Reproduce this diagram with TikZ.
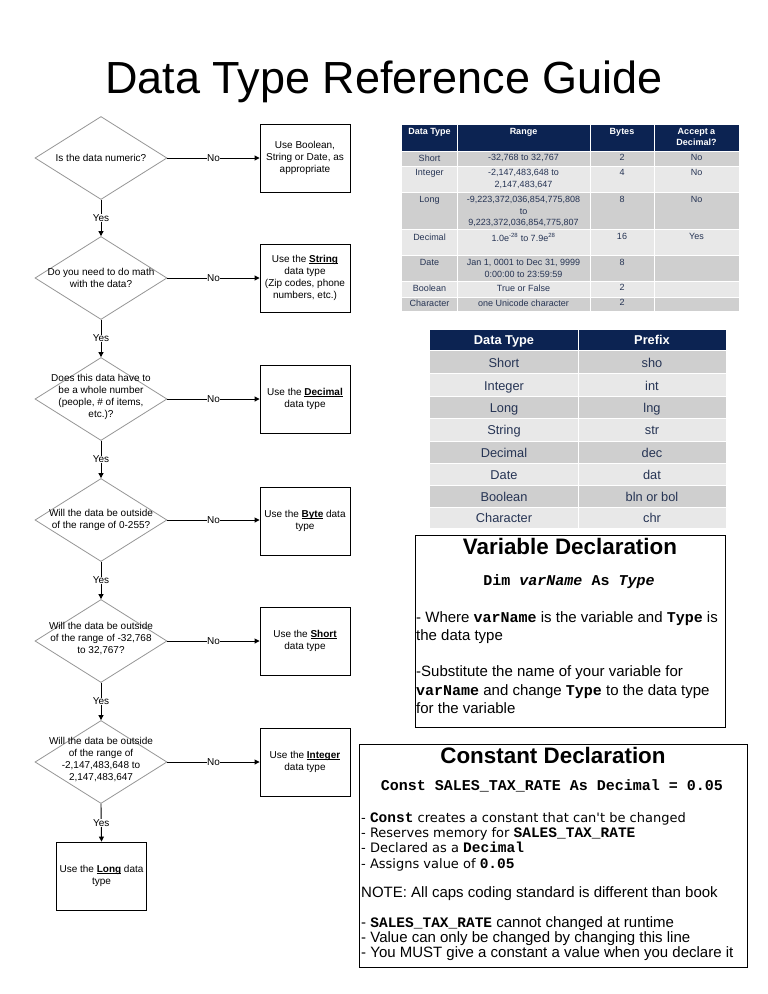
\documentclass[tikz,border=0pt]{standalone}
\usepackage{fontspec}
\setmainfont{Liberation Sans}
\setmonofont{Liberation Mono}
\newfontfamily\dejavu{DejaVu Sans}
\usetikzlibrary{shapes.geometric,arrows.meta}
\definecolor{navy}{RGB}{12,35,82}
\definecolor{rowdk}{RGB}{207,207,207}
\definecolor{rowlt}{RGB}{232,232,232}
\definecolor{tbltxt}{RGB}{38,52,84}
\definecolor{diagray}{RGB}{150,150,150}
\newcommand\cd[1]{{\ttfamily\bfseries #1}}
\newcommand\ub[1]{\setbox0\hbox{\textbf{#1}}\leavevmode\rlap{\rule[-1.6pt]{\wd0}{0.7pt}}\box0\relax}
\begin{document}
\begin{tikzpicture}[x=1pt,y=-1pt,
  dia/.style={diamond,draw=diagray,line width=0.8pt,minimum width=132pt,minimum height=83pt,inner sep=0pt},
  qtxt/.style={font=\fontsize{10}{12}\selectfont,align=center,inner sep=0pt},
  bx/.style={draw,line width=0.9pt,minimum width=90pt,minimum height=68pt,inner sep=1pt,align=center,font=\fontsize{10}{12}\selectfont},
  arr/.style={line width=0.9pt,-{Triangle[length=5pt,width=5pt]}},
  lbl/.style={fill=white,inner sep=0.5pt,font=\fontsize{10}{12}\selectfont},
  ta/.style={font=\fontsize{9}{11.5}\selectfont,text=tbltxt,align=center,inner sep=0pt,anchor=north},
  tah/.style={font=\fontsize{9}{11}\selectfont\bfseries,text=white,align=center,inner sep=0pt,anchor=north},
  tb/.style={font=\fontsize{12.8}{15}\selectfont,text=tbltxt,inner sep=0pt,anchor=base},
  tbh/.style={font=\fontsize{12.8}{15}\selectfont\bfseries,text=white,inner sep=0pt,anchor=base},
  sep/.style={white,line width=1pt},
  ptitle/.style={font=\fontsize{22.4}{26}\selectfont\bfseries,inner sep=0pt,anchor=base},
  pcode/.style={font=\fontsize{15}{18}\selectfont,inner sep=0pt,anchor=base},
  pline/.style={font=\fontsize{15}{18}\selectfont,inner sep=0pt,anchor=base west},
  pdv/.style={font=\fontsize{13}{16}\selectfont,inner sep=0pt,anchor=base west}
]
\useasboundingbox[fill=white] (0,0) rectangle (768,994);

% Title
\node[font=\fontsize{45}{54}\selectfont,inner sep=0pt,anchor=base] (title) at (384,93) {Data Type Reference Guide};

% Flowchart diamonds
\node[dia] (q1) at (101,158) {};
\node[qtxt] (q1t) at (q1) {Is the data numeric?};
\node[dia] (q2) at (101,278) {};
\node[qtxt] (q2t) at (q2) {Do you need to do math\\with the data?};
\node[dia] (q3) at (101,399) {};
\node[qtxt] (q3t) at (101,397) {Does this data have to\\be a whole number\\(people, \# of items,\\etc.)?};
\node[dia] (q4) at (101,520) {};
\node[qtxt] (q4t) at (q4) {Will the data be outside\\of the range of 0-255?};
\node[dia] (q5) at (101,641) {};
\node[qtxt] (q5t) at (101,639) {Will the data be outside\\of the range of -32,768\\to 32,767?};
\node[dia] (q6) at (101,762) {};
\node[qtxt] (q6t) at (101,760) {Will the data be outside\\of the range of\\-2,147,483,648 to\\2,147,483,647};

% Boxes
\node[bx] (b1) at (305,158) {Use Boolean,\\String or Date, as\\appropriate};
\node[bx] (b2) at (305,278) {Use the \ub{String}\\data type\\(Zip codes, phone\\numbers, etc.)};
\node[bx] (b3) at (305,399) {Use the \ub{Decimal}\\data type};
\node[bx] (b4) at (305,521) {Use the \ub{Byte} data\\type};
\node[bx] (b5) at (305,641) {Use the \ub{Short}\\data type};
\node[bx] (b6) at (305,762) {Use the \ub{Integer}\\data type};
\node[bx] (b7) at (101.5,876) {Use the \ub{Long} data\\type};

% Connectors
\draw[arr] (q1.east) -- node[lbl] (n1) {No} (b1.west);
\draw[arr] (q2.east) -- node[lbl] (n2) {No} (b2.west);
\draw[arr] (q3.east) -- node[lbl] (n3) {No} (b3.west |- q3.east);
\draw[arr] (q4.east) -- node[lbl] (n4) {No} (b4.west |- q4.east);
\draw[arr] (q5.east) -- node[lbl] (n5) {No} (b5.west);
\draw[arr] (q6.east) -- node[lbl] (n6) {No} (b6.west);
\draw[arr] (q1.south) -- node[lbl] (y1) {Yes} (q2.north);
\draw[arr] (q2.south) -- node[lbl] (y2) {Yes} (q3.north);
\draw[arr] (q3.south) -- node[lbl] (y3) {Yes} (q4.north);
\draw[arr] (q4.south) -- node[lbl] (y4) {Yes} (q5.north);
\draw[arr] (q5.south) -- node[lbl] (y5) {Yes} (q6.north);
\draw[arr] (q6.south) -- node[lbl] (y6) {Yes} (b7.north);

% Table 1
\fill[navy] (402,125) rectangle (739,151);
\foreach \ya/\yb/\c in {151/166/rowdk,166/192/rowlt,192/229/rowdk,229/255/rowlt,255/281/rowdk,281/297/rowlt,297/311/rowdk}
  \fill[\c] (402,\ya) rectangle (739,\yb);
\foreach \x in {457,590,654} \draw[sep] (\x,125) -- (\x,311);
\foreach \y in {151,166,192,229,255,281,297} \draw[sep] (402,\y) -- (739,\y);
\node[tah] (h11) at (429.5,128) {Data Type};
\node[tah] (h12) at (523.5,128) {Range};
\node[tah] (h13) at (622,128) {Bytes};
\node[tah] (h14) at (696.5,128) {Accept a\\Decimal?};
\node[ta] (r1a) at (429.5,154.5) {Short};
\node[ta] (r1b) at (523.5,154.5) {-32,768 to 32,767};
\node[ta] (r1c) at (622,154.5) {2};
\node[ta] (r1d) at (696.5,154.5) {No};
\node[ta] (r2a) at (429.5,169.5) {Integer};
\node[ta] (r2b) at (523.5,169.5) {-2,147,483,648 to\\2,147,483,647};
\node[ta] (r2c) at (622,169.5) {4};
\node[ta] (r2d) at (696.5,169.5) {No};
\node[ta] (r3a) at (429.5,196.5) {Long};
\node[ta] (r3b) at (523.5,196.5) {-9,223,372,036,854,775,808\\to\\9,223,372,036,854,775,807};
\node[ta] (r3c) at (622,196.5) {8};
\node[ta] (r3d) at (696.5,196.5) {No};
\node[ta] (r4a) at (429.5,233.5) {Decimal};
\node[ta] (r4b) at (523.5,233.5) {1.0e\textsuperscript{-28} to 7.9e\textsuperscript{28}};
\node[ta] (r4c) at (622,233.5) {16};
\node[ta] (r4d) at (696.5,233.5) {Yes};
\node[ta] (r5a) at (429.5,259.5) {Date};
\node[ta] (r5b) at (523.5,259.5) {Jan 1, 0001 to Dec 31, 9999\\0:00:00 to 23:59:59};
\node[ta] (r5c) at (622,259.5) {8};
\node[ta] (r6a) at (429.5,284.5) {Boolean};
\node[ta] (r6b) at (523.5,284.5) {True or False};
\node[ta] (r6c) at (622,284.5) {2};
\node[ta] (r7a) at (429.5,299.5) {Character};
\node[ta] (r7b) at (523.5,299.5) {one Unicode character};
\node[ta] (r7c) at (622,299.5) {2};

% Table 2
\fill[navy] (430,330) rectangle (726,350);
\foreach \ya/\yb/\c in {350/373/rowdk,373/396/rowlt,396/418/rowdk,418/441/rowlt,441/463/rowdk,463/485/rowlt,485/507/rowdk,507/528/rowlt}
  \fill[\c] (430,\ya) rectangle (726,\yb);
\draw[sep] (578,330) -- (578,528);
\foreach \y in {350,373,396,418,441,463,485,507} \draw[sep] (430,\y) -- (726,\y);
\node[tbh] (h21) at (504,344.5) {Data Type};
\node[tbh] (h22) at (652,344.5) {Prefix};
\node[tb] (p1a) at (504,367) {Short};     \node[tb] (p1b) at (652,367) {sho};
\node[tb] (p2a) at (504,390) {Integer};   \node[tb] (p2b) at (652,390) {int};
\node[tb] (p3a) at (504,412) {Long};      \node[tb] (p3b) at (652,412) {lng};
\node[tb] (p4a) at (504,434.5) {String};  \node[tb] (p4b) at (652,434.5) {str};
\node[tb] (p5a) at (504,457) {Decimal};   \node[tb] (p5b) at (652,457) {dec};
\node[tb] (p6a) at (504,479) {Date};      \node[tb] (p6b) at (652,479) {dat};
\node[tb] (p7a) at (504,501) {Boolean};   \node[tb] (p7b) at (652,501) {bln or bol};
\node[tb] (p8a) at (504,522.5) {Character}; \node[tb] (p8b) at (652,522.5) {chr};

% Variable Declaration panel
\draw[line width=0.9pt] (415,535) rectangle (725,727);
\node[ptitle] (vt) at (570,554) {Variable Declaration};
\node[pcode] (vc) at (569,585) {\cd{Dim \textit{varName} As \textit{Type}}};
\node[pline] (v1) at (416,622) {- Where \cd{varName} is the variable and \cd{Type} is};
\node[pline] (v2) at (416,640) {the data type};
\node[pline] (v3) at (416,676) {-Substitute the name of your variable for};
\node[pline] (v4) at (416,695) {\cd{varName} and change \cd{Type} to the data type};
\node[pline] (v5) at (416,713) {for the variable};

% Constant Declaration panel
\draw[line width=0.9pt] (359,744) rectangle (747,967);
\node[ptitle] (ct) at (553,763) {Constant Declaration};
\node[pcode] (cc) at (552,790) {\cd{Const SALES\_TAX\_RATE As Decimal = 0.05}};
\node[pdv] (c1) at (361,822) {{\dejavu - }{\fontsize{14.5}{16}\selectfont\cd{Const}}{\dejavu\ creates a constant that can't be changed}};
\node[pdv] (c2) at (361,837) {{\dejavu - Reserves memory for }{\fontsize{14.5}{16}\selectfont\cd{SALES\_TAX\_RATE}}};
\node[pdv] (c3) at (361,852) {{\dejavu - Declared as a }{\fontsize{14.5}{16}\selectfont\cd{Decimal}}};
\node[pdv] (c4) at (361,868) {{\dejavu - Assigns value of }{\fontsize{14.5}{16}\selectfont\cd{0.05}}};
\node[pline] (c5) at (361,897) {NOTE: All caps coding standard is different than book};
\node[pline] (c6) at (361,927) {- {\fontsize{14.5}{16}\selectfont\cd{SALES\_TAX\_RATE}} cannot changed at runtime};
\node[pline] (c7) at (361,942) {- Value can only be changed by changing this line};
\node[pline] (c8) at (361,957) {- You MUST give a constant a value when you declare it};
\end{tikzpicture}
\end{document}
